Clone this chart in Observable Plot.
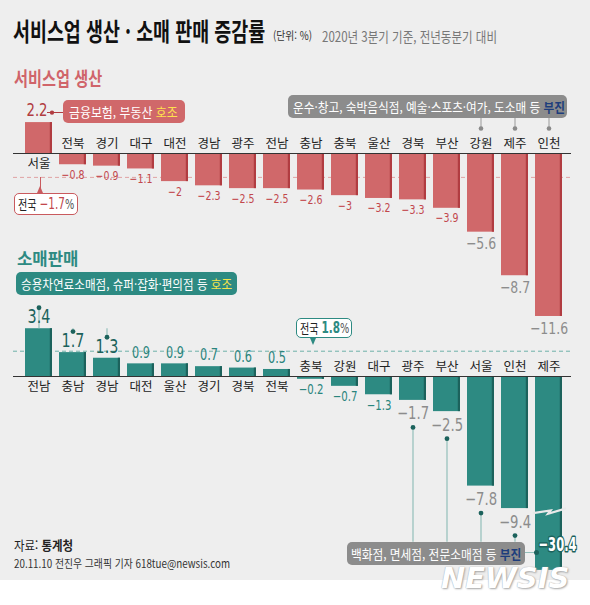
<!DOCTYPE html>
<html lang="ko">
<head>
<meta charset="utf-8">
<script src="https://cdn.jsdelivr.net/npm/d3@7"></script>
<script src="https://cdn.jsdelivr.net/npm/@observablehq/plot@0.6"></script>
<style>
  html, body { margin: 0; padding: 0; background: #fff; }
  #root { position: relative; width: 590px; height: 605px; overflow: hidden; font-family: "Noto Sans CJK KR", "Noto Sans", sans-serif; }
  #bg { position: absolute; left: 0; top: 0; width: 590px; height: 580px; background: #eeeeee; }
  .t { position: absolute; white-space: nowrap; line-height: 1; }
  .fit { display: block; width: max-content; transform-origin: 0 50%; white-space: nowrap; line-height: 1; }
  .box { position: absolute; border-radius: 5px; display: flex; align-items: center; box-sizing: border-box; overflow: visible; }
  .abs { position: absolute; }
</style>
</head>
<body>
<div id="root"><div id="bg"></div></div>
<script>
// ---------------- data ----------------
const serviceRegions = ["서울","전북","경기","대구","대전","경남","광주","전남","충남","충북","울산","경북","부산","강원","제주","인천"];
const serviceValues  = [2.2, -0.8, -0.9, -1.1, -2, -2.3, -2.5, -2.5, -2.6, -3, -3.2, -3.3, -3.9, -5.6, -8.7, -11.6];
const serviceNational = -1.7;
const serviceGood = ["서울"];
const serviceWeak = ["강원", "제주", "인천"];

const retailRegions = ["전남","충남","경남","대전","울산","경기","경북","전북","충북","강원","대구","광주","부산","서울","인천","제주"];
const retailValues  = [3.4, 1.7, 1.3, 0.9, 0.9, 0.7, 0.6, 0.5, -0.2, -0.7, -1.3, -1.7, -2.5, -7.8, -9.4, -30.4];
const retailNational = 1.8;
const retailGood = ["전남", "충남", "경남"];
const retailWeak = ["광주", "부산", "서울", "인천", "제주"];

const titleText = "서비스업 생산 · 소매 판매 증감률";
const unitNote = "(단위: %)";
const basisNote = "2020년 3분기 기준, 전년동분기 대비";
const serviceTitle = "서비스업 생산";
const retailTitle = "소매판매";
const nationalLabel = "전국";
const serviceGoodNote = ["금융보험, 부동산 ", "호조"];
const serviceWeakNote = ["운수·창고, 숙박음식점, 예술·스포츠·여가, 도소매 등 ", "부진"];
const retailGoodNote  = ["승용차연료소매점, 슈퍼·잡화·편의점 등 ", "호조"];
const retailWeakNote  = ["백화점, 면세점, 전문소매점 등 ", "부진"];
const sourceText = ["자료: ", "통계청"];
const creditText = "20.11.10 전진우 그래픽 기자 618tue@newsis.com";
const watermarkText = "NEWSIS";

// ---------------- layout / style ----------------
const W = 590;
const K = 14.05;                 // px per percentage point (both panels)
const X_RANGE = [12.2, 574.8];
const S_TOP = 60, S_H = 280, S_BASE = 93;
const R_TOP = 280, R_H = 300, R_BASE = 96;
const retailCut = -13.8;         // retail axis is broken below this
const retailBreakAt = -9.55;     // where the break mark is drawn on the cut bar
const serviceNoteLevel = 2.5;    // bottom of the service "부진" note box
const retailGoodLevel = 5.75;    // bottom of the retail "호조" note box
const retailWeakLevel = -11.8;   // top of the retail "부진" note box

const RED = "#d0686a", RED_DARK = "#b13c41", RED_TEXT = "#c2474c";
const TEAL = "#2d8a82", TEAL_DARK = "#1c625c", TEAL_TEXT = "#2a857d";
const GRAY_TEXT = "#8c8c8c", NOTE_GRAY = "#8c8c8c", NAVY = "#1d3d7c", YELLOW = "#ffe14d";
const numFont = '"Liberation Sans Narrow", "DejaVu Sans Condensed", sans-serif';
const bigFont = '"DejaVu Sans Condensed", sans-serif';
const krFont = '"Noto Sans CJK KR", "Noto Sans", sans-serif';
const condenseBy = {[numFont]: 0.84, [bigFont]: 0.64};

const fmt = v => (v < 0 ? "\u2212" : "") + Math.abs(v);
const inList = list => d => list.includes(d.region);

// ---------------- helpers ----------------
const root = document.getElementById("root");
function fit(el, w) {
  const nat = el.offsetWidth;
  if (w && nat > 0) el.style.transform = `scaleX(${w / nat})`;
}
function text({left, top, size, weight = 400, color = "#222", html, width, family, extra = ""}) {
  const d = document.createElement("div");
  d.className = "t";
  d.style.cssText = `left:${left}px;top:${top}px;font-size:${size}px;font-weight:${weight};color:${color};` + (family ? `font-family:${family};` : "") + extra;
  const s = document.createElement("span");
  s.className = "fit";
  s.innerHTML = html;
  d.appendChild(s);
  root.appendChild(d);
  fit(s, width);
  return d;
}
function box({left, top, width, height, bg, border = "", pad = 5, textWidth, size = 13, color = "#fff", html}) {
  const b = document.createElement("div");
  b.className = "box";
  b.style.cssText = `left:${left}px;top:${top}px;width:${width}px;height:${height}px;background:${bg};padding-left:${pad}px;` + (border ? `border:${border};` : "");
  const s = document.createElement("span");
  s.className = "fit";
  s.style.cssText = `font-size:${size}px;color:${color};`;
  s.innerHTML = html;
  b.appendChild(s);
  root.appendChild(b);
  fit(s, textWidth);
  return b;
}
function piece(css) {
  const d = document.createElement("div");
  d.className = "abs";
  d.style.cssText = css;
  root.appendChild(d);
}
// narrow the numeric labels (the reference uses a condensed face)
function condense(svg) {
  svg.querySelectorAll("g[font-family]").forEach(g => {
    const f = condenseBy[g.getAttribute("font-family")];
    if (!f) return;
    g.querySelectorAll("text").forEach(t => {
      const tr = t.getAttribute("transform");
      if (tr) t.setAttribute("transform", `${tr} scale(${f},1)`);
      else {
        const x = +t.getAttribute("x") || 0, y = +t.getAttribute("y") || 0;
        t.setAttribute("x", 0); t.setAttribute("y", 0);
        t.setAttribute("transform", `translate(${x},${y}) scale(${f},1)`);
      }
    });
  });
}

// ---------------- service panel ----------------
const sData = serviceRegions.map((region, i) => ({region, value: serviceValues[i]}));
const sExt = d3.extent(serviceValues);
const service = Plot.plot({
  width: W, height: S_H,
  marginTop: 0, marginBottom: 0, marginLeft: 13, marginRight: 19,
  style: {background: "transparent", overflow: "visible", fontFamily: krFont},
  x: {type: "band", domain: serviceRegions, range: X_RANGE, padding: 0.2, axis: null},
  y: {domain: sExt, range: [S_BASE - sExt[0] * K, S_BASE - sExt[1] * K], axis: null},
  marks: [
    Plot.ruleY([serviceNational], {stroke: "#e0a2a3", strokeDasharray: "4,3", strokeWidth: 1}),
    Plot.barY(sData, {x: "region", y: "value", fill: RED}),
    Plot.barY(sData, {x: "region", y: "value", fill: RED_DARK, insetLeft: 24.8}),
    Plot.ruleY([0], {stroke: "#333", strokeWidth: 1.2}),
    Plot.text(sData.filter(d => d.value < 0), {x: "region", y: 0, text: "region", dy: -10, fontSize: 12.5, fill: "#222"}),
    Plot.text(sData.filter(d => d.value >= 0), {x: "region", y: 0, text: "region", dy: 10, fontSize: 12.5, fill: "#222"}),
    Plot.text(sData.filter(d => d.value < 0 && !serviceWeak.includes(d.region)),
      {x: "region", y: "value", text: d => fmt(d.value), dy: 10, fontSize: 12.5, fill: RED_TEXT, fontFamily: numFont}),
    Plot.text(sData.filter(inList(serviceWeak)),
      {x: "region", y: "value", text: d => fmt(d.value), dy: 12, fontSize: 16.5, fill: GRAY_TEXT, fontFamily: numFont}),
    Plot.text(sData.filter(d => d.value >= 0),
      {x: "region", y: "value", text: d => fmt(d.value), dy: -12, dx: -2, fontSize: 17.5, fill: RED_DARK, fontFamily: numFont}),
    // leader lines: y1 is the upper end, y2 the lower end (inset from the label side)
    Plot.ruleX(sData.filter(inList(serviceWeak)), {x: "region", y1: serviceNoteLevel, y2: 0, insetBottom: 25, stroke: "#9a9a9a"}),
    Plot.dot(sData.filter(inList(serviceWeak)), {x: "region", y: 0, dy: -25, r: 2.3, fill: "#8a8a8a"}),
    Plot.dot(sData.filter(inList(serviceGood)), {x: "region", y: "value", dx: 13, dy: -10, r: 2.2, fill: RED_DARK})
  ]
});
condense(service);
service.style.position = "absolute";
service.style.left = "0px";
service.style.top = S_TOP + "px";
root.appendChild(service);

// ---------------- retail panel ----------------
const rData = retailRegions.map((region, i) => ({region, value: retailValues[i]}));
const rMax = d3.max(retailValues);
function breakMark(regions, at) {
  return (index, scales) => {
    const g = document.createElementNS("http://www.w3.org/2000/svg", "g");
    const bw = typeof scales.x.bandwidth === "function" ? scales.x.bandwidth() : 28;
    for (const r of regions) {
      const x0 = scales.x(r), y0 = scales.y(at), x1 = x0 + bw;
      const xm = x0 + bw * 0.52;
      const p = document.createElementNS("http://www.w3.org/2000/svg", "path");
      p.setAttribute("d", `M${x0 - 2},${y0 + 3} L${xm + 1.5},${y0 + 0.3} L${xm - 1},${y0 + 3.6} L${x1 + 4},${y0 - 1.8}`);
      p.setAttribute("fill", "none");
      p.setAttribute("stroke", "#e9e9e9");
      p.setAttribute("stroke-width", "2.2");
      g.appendChild(p);
    }
    return g;
  };
}
const cutRegions = rData.filter(d => d.value < retailCut).map(d => d.region);
const weakShown = rData.filter(d => retailWeak.includes(d.region) && d.value >= retailCut);
const retail = Plot.plot({
  width: W, height: R_H,
  marginTop: 0, marginBottom: 0, marginLeft: 13, marginRight: 19,
  style: {background: "transparent", overflow: "visible", fontFamily: krFont},
  x: {type: "band", domain: retailRegions, range: X_RANGE, padding: 0.2, axis: null},
  y: {domain: [retailCut, rMax], range: [R_BASE - retailCut * K, R_BASE - rMax * K], clamp: true, axis: null},
  marks: [
    Plot.ruleY([retailNational], {stroke: "#6fb1a9", strokeDasharray: "4,3", strokeWidth: 1}),
    Plot.barY(rData, {x: "region", y: "value", fill: TEAL}),
    Plot.barY(rData, {x: "region", y: "value", fill: TEAL_DARK, insetLeft: 24.8}),
    breakMark(cutRegions, retailBreakAt),
    Plot.ruleY([0], {stroke: "#333", strokeWidth: 1.2}),
    Plot.text(rData.filter(d => d.value < 0), {x: "region", y: 0, text: "region", dy: -10, fontSize: 12.5, fill: "#222"}),
    Plot.text(rData.filter(d => d.value >= 0), {x: "region", y: 0, text: "region", dy: 10, fontSize: 12.5, fill: "#222"}),
    // leader lines & dots (y1 upper end, y2 lower end)
    Plot.ruleX(rData.filter(inList(retailGood)), {x: "region", y1: retailGoodLevel, y2: "value", insetBottom: 21, stroke: "#93bfba", strokeWidth: 1.2}),
    Plot.dot(rData.filter(inList(retailGood)), {x: "region", y: "value", dy: -21, r: 2.4, fill: TEAL_DARK}),
    Plot.ruleX(weakShown, {x: "region", y1: "value", y2: retailWeakLevel, insetTop: 27, stroke: "#93bfba", strokeWidth: 1.2}),
    Plot.dot(weakShown, {x: "region", y: "value", dy: 27, r: 2.4, fill: TEAL_DARK}),
    // value labels
    Plot.text(rData.filter(inList(retailGood)),
      {x: "region", y: "value", text: d => fmt(d.value), dy: -11.5, fontSize: 19, fill: TEAL_DARK, fontFamily: numFont}),
    Plot.text(rData.filter(d => d.value >= 0 && !retailGood.includes(d.region)),
      {x: "region", y: "value", text: d => fmt(d.value), dy: -11, fontSize: 15, fill: TEAL_TEXT, fontFamily: numFont}),
    Plot.text(rData.filter(d => d.value < 0 && !retailWeak.includes(d.region)),
      {x: "region", y: "value", text: d => fmt(d.value), dy: 10.5, fontSize: 13.5, fill: TEAL_TEXT, fontFamily: numFont}),
    Plot.text(weakShown,
      {x: "region", y: "value", text: d => fmt(d.value), dy: 13.5, fontSize: 17.5, fill: GRAY_TEXT, fontFamily: numFont}),
    Plot.text(rData.filter(d => d.value < retailCut),
      {x: "region", y: "value", text: d => fmt(d.value), dx: 8.5, dy: -26, fontSize: 20, fontWeight: "bold",
       fill: "white", stroke: TEAL_DARK, strokeWidth: 3, paintOrder: "stroke", fontFamily: bigFont})
  ]
});
condense(retail);
retail.style.position = "absolute";
retail.style.left = "0px";
retail.style.top = R_TOP + "px";
root.appendChild(retail);

// ---------------- titles & notes ----------------
text({left: 13, top: 17.5, size: 25, weight: 700, color: "#111", html: titleText, width: 252});
text({left: 273, top: 29.5, size: 11.5, color: "#333", html: unitNote, width: 39});
text({left: 322, top: 28.5, size: 14, color: "#777", html: basisNote, width: 175});
text({left: 14, top: 68, size: 19, weight: 700, color: "#d0646a", html: serviceTitle, width: 88});
text({left: 17, top: 248.5, size: 17.5, weight: 700, color: TEAL, html: retailTitle, width: 61});

const nf = numFont.replace(/"/g, "'");
// service good note
piece(`left:47px;top:111.5px;width:16px;height:1.2px;background:${RED_DARK};`);
box({left: 63, top: 100, width: 122, height: 23, bg: RED, pad: 6, textWidth: 109,
     html: `${serviceGoodNote[0]}<span style="color:${YELLOW}">${serviceGoodNote[1]}</span>`});
// service weak note
box({left: 288, top: 95, width: 279, height: 23, bg: NOTE_GRAY, pad: 5, textWidth: 272,
     html: `${serviceWeakNote[0]}<b style="color:${NAVY}">${serviceWeakNote[1]}</b>`});
// service national
piece(`left:39.5px;top:177px;width:1.3px;height:11px;background:#c95a5e;`);
piece(`left:36.5px;top:186px;width:0;height:0;border-left:3.5px solid transparent;border-right:3.5px solid transparent;border-bottom:7px solid #c95a5e;`);
box({left: 14, top: 193, width: 64, height: 22, bg: "#fff", border: "1.5px solid #c95a5e", pad: 3, textWidth: 56, color: "#222",
     html: `${nationalLabel} <span style="font-family:${nf};font-size:15px;color:${RED_TEXT}">${fmt(serviceNational)}</span><span style="font-family:${nf};font-size:14px;color:#555">%</span>`});

// retail good note
box({left: 16, top: 272, width: 221, height: 23, bg: TEAL, pad: 5, textWidth: 211,
     html: `${retailGoodNote[0]}<span style="color:#f3e34a">${retailGoodNote[1]}</span>`});
// retail national
piece(`left:309.5px;top:337.5px;width:0;height:0;border-left:3.5px solid transparent;border-right:3.5px solid transparent;border-top:7px solid ${TEAL};`);
box({left: 296, top: 318, width: 56, height: 20, bg: "#fff", border: `1.5px solid ${TEAL}`, pad: 3, textWidth: 49, color: "#222",
     html: `${nationalLabel} <b style="font-family:${nf};font-size:15px;color:${TEAL}">${fmt(retailNational)}</b><span style="font-family:${nf};font-size:14px;color:#555">%</span>`});
// retail weak note
piece(`left:525px;top:552.3px;width:11px;height:1.2px;background:#93bfba;`);
piece(`left:533.5px;top:550.3px;width:5px;height:5px;border-radius:50%;background:${TEAL_DARK};`);
box({left: 347, top: 542, width: 178, height: 23, bg: NOTE_GRAY, pad: 4, textWidth: 170,
     html: `${retailWeakNote[0]}<b style="color:${NAVY}">${retailWeakNote[1]}</b>`});

// source & credit
text({left: 14, top: 539, size: 12.8, color: "#222", html: `${sourceText[0]}<b>${sourceText[1]}</b>`, width: 59});
text({left: 14, top: 558, size: 11.2, color: "#333", html: creditText, width: 216});
// watermark
text({left: 441, top: 565, size: 28, weight: 700, color: "#fff", html: watermarkText, width: 128,
      family: "'DejaVu Sans', sans-serif", extra: "font-style:italic;text-shadow:0 0 1px #999,1px 1px 2px #aaa;"});
</script>
</body>
</html>
